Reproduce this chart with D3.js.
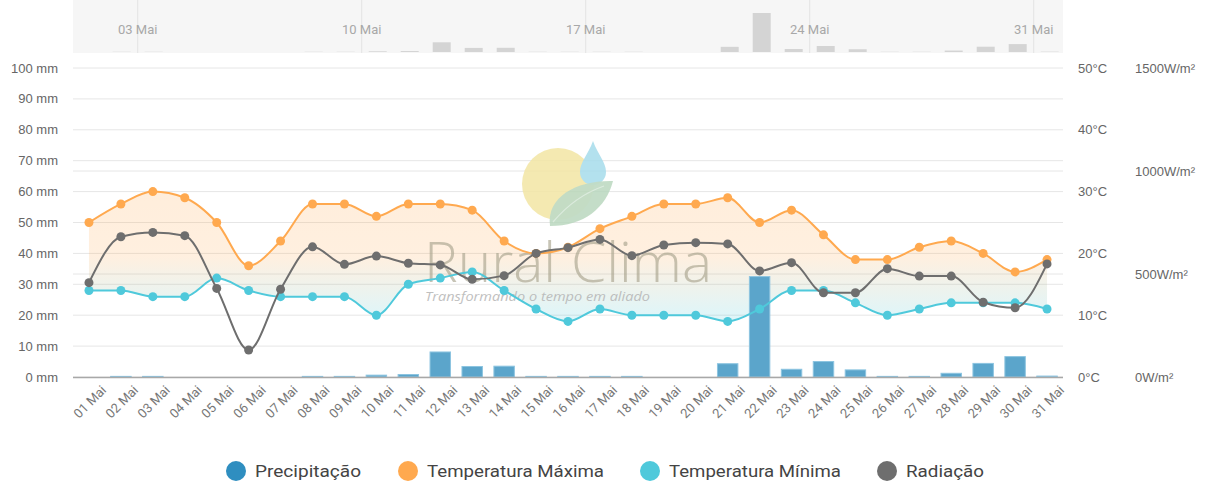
<!DOCTYPE html>
<html>
<head>
<meta charset="utf-8">
<script src="https://cdn.jsdelivr.net/npm/d3@7/dist/d3.min.js"></script>
<style>
  body { margin: 0; background: #fff; }
  svg { display: block; font-family: "Liberation Sans", Arial, sans-serif; }
</style>
</head>
<body>
<svg id="chart" width="1211" height="488"></svg>
<script>
const days = ["01 Mai","02 Mai","03 Mai","04 Mai","05 Mai","06 Mai","07 Mai","08 Mai","09 Mai","10 Mai",
  "11 Mai","12 Mai","13 Mai","14 Mai","15 Mai","16 Mai","17 Mai","18 Mai","19 Mai","20 Mai",
  "21 Mai","22 Mai","23 Mai","24 Mai","25 Mai","26 Mai","27 Mai","28 Mai","29 Mai","30 Mai","31 Mai"];

const precip = [0, 0.2, 0.2, 0, 0, 0, 0, 0.2, 0.2, 0.6, 0.8, 8.1, 3.4, 3.5, 0.2, 0.2, 0.2, 0.2, 0, 0,
  4.3, 32.5, 2.5, 5, 2.3, 0.2, 0.2, 1.2, 4.4, 6.6, 0.3];
const tempMax = [25, 28, 30, 29, 25, 18, 22, 28, 28, 26, 28, 28, 27, 22, 20, 21, 24, 26, 28, 28,
  29, 25, 27, 23, 19, 19, 21, 22, 20, 17, 19];
const tempMin = [14, 14, 13, 13, 16, 14, 13, 13, 13, 10, 15, 16, 17, 14, 11, 9, 11, 10, 10, 10,
  9, 11, 14, 14, 12, 10, 11, 12, 12, 12, 11];
const radiation = [458, 681, 702, 686, 430, 131, 426, 632, 547, 587, 552, 544, 474, 492, 600, 628, 668, 589, 641, 652,
  646, 515, 555, 409, 409, 526, 490, 490, 363, 336, 549];

const mmTicks = [0, 10, 20, 30, 40, 50, 60, 70, 80, 90, 100];
const tempTicks = [0, 10, 20, 30, 40, 50];
const radTicks = [0, 500, 1000, 1500];
const navTicks = [{ day: 2, label: "03 Mai" }, { day: 9, label: "10 Mai" }, { day: 16, label: "17 Mai" },
  { day: 23, label: "24 Mai" }, { day: 30, label: "31 Mai" }];

const legendItems = [
  { name: "Precipitação", color: "#2f8ec0" },
  { name: "Temperatura Máxima", color: "#ffa94f" },
  { name: "Temperatura Mínima", color: "#4fc9db" },
  { name: "Radiação", color: "#6e6e6e" }
];
const legendX = [236, 408, 650, 887];
const legendWidths = [106, 177, 172, 78];

const svg = d3.select("#chart");
const plotLeft = 73, plotRight = 1063, plotTop = 68, plotBottom = 377;

const x = d3.scaleBand().domain(days).range([plotLeft, plotRight]);
const cx = d => x(d) + x.bandwidth() / 2;
const yMm = d3.scaleLinear().domain([0, 100]).range([plotBottom, plotTop]);
const yT = d3.scaleLinear().domain([0, 50]).range([plotBottom, plotTop]);
const yR = d3.scaleLinear().domain([0, 1500]).range([plotBottom, plotTop]);

// navigator
const navX = d3.scaleLinear().domain([0, 31]).range([73.7, 73.7 + 31 * 32]);
const navY = d3.scaleLinear().domain([0, d3.max(precip)]).range([52, 13]);
const nav = svg.append("g");
nav.append("rect").attr("x", plotLeft).attr("y", 0).attr("width", plotRight - plotLeft).attr("height", 53).attr("fill", "#f6f6f6");
nav.selectAll("line.ng").data(navTicks).enter().append("line")
  .attr("x1", d => navX(d.day)).attr("x2", d => navX(d.day))
  .attr("y1", 0).attr("y2", 53).attr("stroke", "#e3e3e3");
nav.selectAll("rect.nb").data(precip).enter().append("rect")
  .attr("x", (d, i) => navX(i + 0.5) - 9).attr("width", 18)
  .attr("y", d => navY(d)).attr("height", d => 52 - navY(d))
  .attr("fill", "#d4d4d4");
nav.selectAll("text").data(navTicks).enter().append("text")
  .attr("x", d => navX(d.day)).attr("y", 34)
  .attr("text-anchor", "middle").attr("font-size", 13).attr("fill", "#a8a8a8")
  .attr("font-family", "Roboto, sans-serif")
  .text(d => d.label);

// grid lines
svg.selectAll("line.gm").data(mmTicks).enter().append("line")
  .attr("x1", plotLeft).attr("x2", plotRight)
  .attr("y1", d => yMm(d)).attr("y2", d => yMm(d))
  .attr("stroke", "#e6e6e6");
svg.selectAll("line.gr").data(radTicks.filter(d => d > 0 && d < 1500)).enter().append("line")
  .attr("x1", plotLeft).attr("x2", plotRight)
  .attr("y1", d => yR(d)).attr("y2", d => yR(d))
  .attr("stroke", "#e6e6e6");

// axis labels
svg.selectAll("text.lm").data(mmTicks).enter().append("text")
  .attr("x", 58).attr("y", d => yMm(d) + 4.5)
  .attr("text-anchor", "end").attr("font-size", 13).attr("fill", "#666")
  .text(d => d + " mm");
svg.selectAll("text.lt").data(tempTicks).enter().append("text")
  .attr("x", 1078).attr("y", d => yT(d) + 4.5)
  .attr("font-size", 13).attr("fill", "#666")
  .text(d => d + "°C");
svg.selectAll("text.lr").data(radTicks).enter().append("text")
  .attr("x", 1135).attr("y", d => yR(d) + 4.5)
  .attr("font-size", 13).attr("fill", "#666")
  .text(d => d + "W/m²");

// range area with gradient
const defs = svg.append("defs");
const grad = defs.append("linearGradient").attr("id", "rangeFill")
  .attr("gradientUnits", "userSpaceOnUse")
  .attr("x1", 0).attr("x2", 0).attr("y1", yT(29)).attr("y2", yT(10));
grad.append("stop").attr("offset", 0).attr("stop-color", "#ffa94f").attr("stop-opacity", 0.2);
grad.append("stop").attr("offset", 0.5).attr("stop-color", "#ffa94f").attr("stop-opacity", 0.18);
grad.append("stop").attr("offset", 1).attr("stop-color", "#4fc9db").attr("stop-opacity", 0.18);

const area = d3.area()
  .x((d, i) => cx(days[i]))
  .y0((d, i) => yT(tempMin[i]))
  .y1(d => yT(d))
  .curve(d3.curveMonotoneX);
svg.append("path").datum(tempMax).attr("d", area).attr("fill", "url(#rangeFill)");

// watermark
const wm = svg.append("g").attr("opacity", 0.85);
wm.append("circle").attr("cx", 558).attr("cy", 184).attr("r", 36).attr("fill", "#f3e6a4");
wm.append("path").attr("d", "M593,141 C588,155 580,162 580,172 A13,13 0 0 0 606,172 C606,162 598,155 593,141 Z")
  .attr("fill", "#a6dcec");
wm.append("path").attr("d", "M550,226 C546,196 578,180 613,181 C606,208 584,226 550,226 Z")
  .attr("fill", "#b6d6bc").attr("opacity", 0.95);
wm.append("path").attr("d", "M553,222 Q575,196 604,186").attr("stroke", "#d6e8d8").attr("fill", "none").attr("stroke-width", 1.2);
wm.append("text").attr("x", 424).attr("y", 282)
  .attr("font-family", "'Open Sans', sans-serif").attr("font-weight", 300)
  .attr("font-size", 56).attr("fill", "#a9a48e").attr("opacity", 0.75)
  .attr("textLength", 288).attr("lengthAdjust", "spacingAndGlyphs")
  .text("Rural Clima");
wm.append("text").attr("x", 425).attr("y", 301)
  .attr("font-family", "'Open Sans', sans-serif").attr("font-style", "italic")
  .attr("font-size", 12).attr("fill", "#b5b5b5")
  .attr("textLength", 225).attr("lengthAdjust", "spacingAndGlyphs")
  .text("Transformando o tempo em aliado");

// bars
const bw = x.bandwidth() * 0.64;
svg.selectAll("rect.bar").data(precip).enter().append("rect")
  .attr("x", (d, i) => cx(days[i]) - bw / 2).attr("width", bw)
  .attr("y", d => yMm(d)).attr("height", d => plotBottom - yMm(d))
  .attr("fill", "#5ba5cb").attr("stroke", "#8cc4e0").attr("stroke-width", 1);

// x axis line
svg.append("line").attr("x1", plotLeft).attr("x2", plotRight).attr("y1", plotBottom + 0.5).attr("y2", plotBottom + 0.5)
  .attr("stroke", "#a8a8a8").attr("stroke-width", 1.5);

// lines and markers
const series = [
  { values: tempMax, scale: yT, color: "#ffa94f" },
  { values: tempMin, scale: yT, color: "#4fc9db" },
  { values: radiation, scale: yR, color: "#6e6e6e" }
];
series.forEach(s => {
  const line = d3.line().x((d, i) => cx(days[i])).y(d => s.scale(d)).curve(d3.curveMonotoneX);
  svg.append("path").datum(s.values).attr("d", line)
    .attr("fill", "none").attr("stroke", s.color).attr("stroke-width", 2);
  svg.append("g").selectAll("circle").data(s.values).enter().append("circle")
    .attr("cx", (d, i) => cx(days[i])).attr("cy", d => s.scale(d))
    .attr("r", 4.5).attr("fill", s.color);
});

// x labels
svg.selectAll("text.xl").data(days).enter().append("text")
  .attr("transform", d => `translate(${cx(d) + 18},${plotBottom + 14}) rotate(-45)`)
  .attr("text-anchor", "end").attr("font-size", 13)
  .attr("font-family", "Roboto, sans-serif")
  .attr("fill", "#777")
  .text(d => d);

// legend
const lg = svg.selectAll("g.lg").data(legendItems).enter().append("g")
  .attr("transform", (d, i) => `translate(${legendX[i]},471)`);
lg.append("circle").attr("r", 10).attr("fill", d => d.color);
lg.append("text").attr("x", 19).attr("y", 6)
  .attr("font-family", "Roboto, sans-serif").attr("font-size", 17).attr("fill", "#444")
  .attr("textLength", (d, i) => legendWidths[i]).attr("lengthAdjust", "spacingAndGlyphs")
  .text(d => d.name);
</script>
</body>
</html>
